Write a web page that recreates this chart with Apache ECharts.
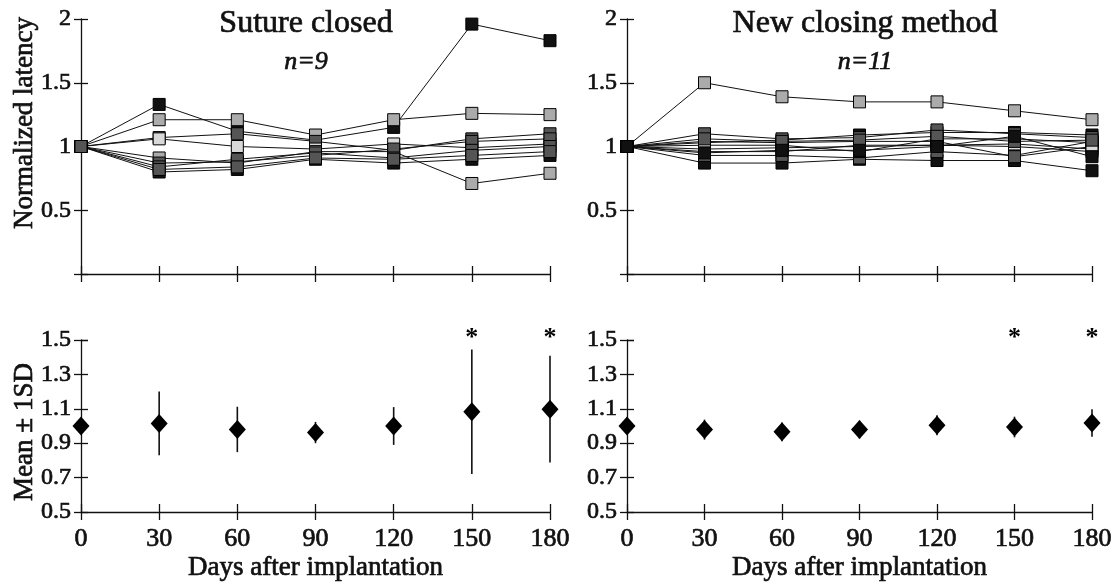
<!DOCTYPE html>
<html>
<head>
<meta charset="utf-8">
<title>Normalized latency</title>
<script src="https://cdn.jsdelivr.net/npm/echarts@6/dist/echarts.min.js"></script>
<style>
    html, body { margin: 0; padding: 0; background: #fff; }
    #main { width: 1120px; height: 584px; }
</style>
</head>
<body>
<div id="main"></div>
<script>
// 天数
let days = [0, 30, 60, 90, 120, 150, 180]
let yTicksTop = [0, 0.5, 1, 1.5, 2]
let yTicksBottom = [0.5, 0.7, 0.9, 1.1, 1.3, 1.5]
let starDays = [150, 180]

// Suture closed, n=9
let suture1 = [1, 1.33, 1.12, 1.05, 1.15, 1.96, 1.83]
let suture2 = [1, 1.21, 1.21, 1.09, 1.21, 1.26, 1.25]
let suture3 = [1, 1.07, 1.10, 1.04, 0.97, 1.06, 1.10]
let suture4 = [1, 1.06, 1.00, 0.98, 1.02, 0.99, 1.02]
let suture5 = [1, 0.91, 0.87, 0.96, 0.96, 0.71, 0.79]
let suture6 = [1, 0.87, 0.88, 0.93, 0.98, 1.04, 1.06]
let suture7 = [1, 0.84, 0.90, 0.95, 0.91, 0.97, 1.00]
let suture8 = [1, 0.80, 0.82, 0.90, 0.87, 0.90, 0.93]
let suture9 = [1, 0.82, 0.84, 0.91, 0.90, 0.93, 0.96]

// New closing method, n=11
let new1 = [1, 1.50, 1.39, 1.35, 1.35, 1.28, 1.21]
let new2 = [1, 0.87, 0.87, 0.90, 0.89, 0.89, 0.81]
let new3 = [1, 1.03, 1.05, 1.09, 1.11, 1.11, 1.09]
let new4 = [1, 1.10, 1.06, 1.07, 1.13, 1.10, 1.07]
let new5 = [1, 0.96, 0.96, 1.01, 1.01, 1.00, 0.96]
let new6 = [1, 0.93, 0.93, 0.91, 0.96, 0.93, 1.04]
let new7 = [1, 1.01, 1.01, 0.96, 1.06, 1.06, 1.03]
let new8 = [1, 1.04, 1.03, 1.04, 1.04, 0.92, 1.00]
let new9 = [1, 0.98, 0.99, 1.00, 1.01, 1.02, 0.98]
let new10 = [1, 1.06, 1.04, 1.05, 1.08, 1.04, 1.05]
let new11 = [1, 0.95, 0.97, 0.97, 1.00, 1.08, 0.92]

// Mean ± 1SD
let sutureMean = [1.0, 1.015, 0.98, 0.962, 1.0, 1.083, 1.098]
let sutureSD = [0, 0.185, 0.132, 0.062, 0.11, 0.362, 0.31]
let newMean = [1.0, 0.979, 0.966, 0.979, 1.004, 0.994, 1.017]
let newSD = [0, 0.058, 0.055, 0.052, 0.058, 0.06, 0.08]

let sutureLines = [suture1, suture2, suture3, suture4, suture5, suture6, suture7, suture8, suture9]
let newLines = [new1, new2, new3, new4, new5, new6, new7, new8, new9, new10, new11]
// 方块的颜色
let sutureFill = ['#111', '#ababab', '#555', '#d8d8d8', '#ababab', '#555', '#555', '#111', '#555']
let newFill = ['#ababab', '#111', '#111', '#555', '#ababab', '#555', '#111', '#555', '#d8d8d8', '#555', '#111']

let FONT = 'Liberation Serif'
let INK = '#111'
// 给文字加一点描边, 让字看起来和扫描件一样粗
let heavy = {textBorderColor: INK, textBorderWidth: 0.7}

let myChart = echarts.init(document.getElementById('main'))

let grids = [
    {left: 81, top: 19, width: 469, height: 255},
    {left: 627, top: 19, width: 465, height: 255},
    {left: 81, top: 340, width: 469, height: 172},
    {left: 627, top: 340, width: 465, height: 172}
]

function xAxisFor (gi, inside) {
    let bottom = gi >= 2
    return {
        type: 'value', gridIndex: gi, position: 'bottom',
        min: days[0], max: days[days.length - 1], interval: 30,
        name: (bottom && !inside) ? 'Days after implantation' : '',
        nameLocation: 'middle', nameGap: 42,
        nameTextStyle: Object.assign({fontFamily: FONT, fontSize: 27, color: INK}, heavy),
        axisLine: {show: !inside, onZero: false, lineStyle: {color: INK, width: 1.3}},
        axisTick: {show: true, inside: inside, length: 8, lineStyle: {color: INK, width: 1.3}},
        axisLabel: Object.assign({show: bottom && !inside, margin: 14, fontFamily: FONT, fontSize: 26, color: INK}, heavy),
        splitLine: {show: false}
    }
}

function yAxisFor (gi, inside) {
    let ticks = gi >= 2 ? yTicksBottom : yTicksTop
    return {
        type: 'value', gridIndex: gi, position: 'left',
        min: ticks[0], max: ticks[ticks.length - 1],
        interval: ticks[1] - ticks[0],
        axisLine: {show: !inside, onZero: false, lineStyle: {color: INK, width: 1.3}},
        axisTick: {show: true, inside: inside, length: 7, lineStyle: {color: INK, width: 1.3}},
        axisLabel: Object.assign({
            show: !inside, margin: 10, fontFamily: FONT, fontSize: 24, color: INK,
            formatter: function (v) {
                if (gi < 2) return v === 0 ? '' : String(v)
                return v.toFixed(1)
            }
        }, heavy),
        splitLine: {show: false}
    }
}

let xAxes = [], yAxes = []
for (let i = 0; i < 4; i++) { xAxes.push(xAxisFor(i, false)); yAxes.push(yAxisFor(i, false)) }
for (let i = 0; i < 4; i++) { xAxes.push(xAxisFor(i, true)); yAxes.push(yAxisFor(i, true)) }

let series = []

// 上面两张图的折线
function addLines (lines, fills, gi) {
    lines.forEach(function (vals, k) {
        series.push({
            type: 'line', xAxisIndex: gi, yAxisIndex: gi,
            data: days.map(function (d, i) { return [d, vals[i]] }),
            symbol: 'rect', symbolSize: 12, showAllSymbol: true,
            lineStyle: {color: INK, width: 1},
            itemStyle: {color: fills[k], borderColor: '#000', borderWidth: 1, opacity: 1},
            z: 3
        })
    })
}
addLines(sutureLines, sutureFill, 0)
addLines(newLines, newFill, 1)

// 下面两张图: 均值 ± 1SD
function addMean (mean, sd, gi) {
    series.push({
        type: 'custom', xAxisIndex: gi, yAxisIndex: gi,
        data: days.map(function (d, i) { return [d, mean[i] - sd[i], mean[i] + sd[i]] }),
        renderItem: function (params, api) {
            let p1 = api.coord([api.value(0), api.value(1)])
            let p2 = api.coord([api.value(0), api.value(2)])
            return {
                type: 'line',
                shape: {x1: p1[0], y1: p1[1], x2: p2[0], y2: p2[1]},
                style: {stroke: INK, lineWidth: 1.6}
            }
        },
        z: 2
    })
    series.push({
        type: 'scatter', xAxisIndex: gi, yAxisIndex: gi,
        data: days.map(function (d, i) { return [d, mean[i]] }),
        symbol: 'diamond', symbolSize: [17, 19],
        itemStyle: {color: '#000', opacity: 1},
        z: 3
    })
    // 星号
    series.push({
        type: 'scatter', xAxisIndex: gi, yAxisIndex: gi,
        data: starDays.map(function (d) { return [d, yTicksBottom[yTicksBottom.length - 1]] }),
        symbolSize: 0, clip: false,
        itemStyle: {opacity: 1},
        label: {
            show: true, position: 'top', distance: -11, formatter: '*',
            fontFamily: FONT, fontSize: 26, fontWeight: 'bold', color: '#000'
        },
        z: 3
    })
}
addMean(sutureMean, sutureSD, 2)
addMean(newMean, newSD, 3)

myChart.setOption({
    animation: false,
    backgroundColor: '#fff',
    title: [
        {text: 'Suture closed', left: 301, top: 3, textAlign: 'center',
            textStyle: Object.assign({fontFamily: FONT, fontSize: 32, fontWeight: 'normal', color: INK}, heavy)},
        {text: 'n=9', left: 301, top: 44, textAlign: 'center',
            textStyle: Object.assign({fontFamily: FONT, fontSize: 26, fontStyle: 'italic', fontWeight: 'normal', color: INK}, heavy)},
        {text: 'New closing method', left: 860, top: 3, textAlign: 'center',
            textStyle: Object.assign({fontFamily: FONT, fontSize: 32, fontWeight: 'normal', color: INK}, heavy)},
        {text: 'n=11', left: 860, top: 44, textAlign: 'center',
            textStyle: Object.assign({fontFamily: FONT, fontSize: 26, fontStyle: 'italic', fontWeight: 'normal', color: INK}, heavy)}
    ],
    graphic: [
        {type: 'text', x: 25, y: 123, rotation: Math.PI / 2,
            style: {text: 'Normalized latency', font: '27px "Liberation Serif"', fill: INK,
                stroke: INK, lineWidth: 0.7, align: 'center', verticalAlign: 'middle'}},
        {type: 'text', x: 25, y: 432, rotation: Math.PI / 2,
            style: {text: 'Mean ± 1SD', font: '27px "Liberation Serif"', fill: INK,
                stroke: INK, lineWidth: 0.7, align: 'center', verticalAlign: 'middle'}}
    ],
    grid: grids,
    xAxis: xAxes,
    yAxis: yAxes,
    series: series
})
</script>
</body>
</html>
